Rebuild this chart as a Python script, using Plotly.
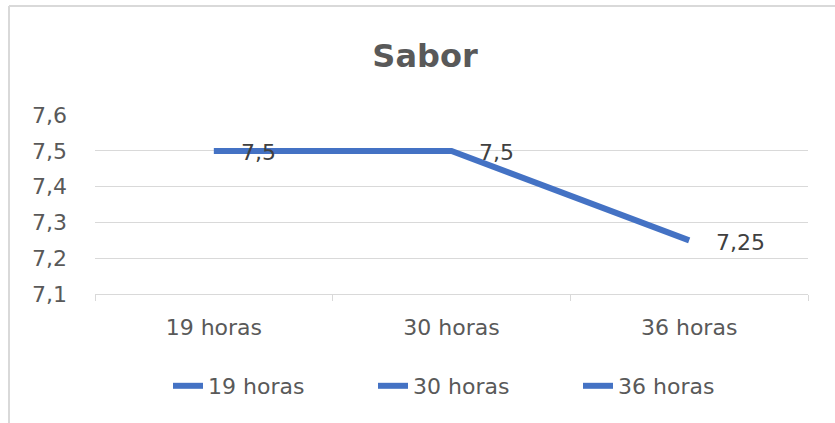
import plotly.graph_objects as go

categories = ["19 horas", "30 horas", "36 horas"]
values = [7.5, 7.5, 7.25]
value_labels = ["7,5", "7,5", "7,25"]
y_ticks = [7.1, 7.2, 7.3, 7.4, 7.5, 7.6]

BLUE = "#4472C4"
GRID = "#d9d9d9"
TXT = "#595959"
FONT = "DejaVu Sans"

W, H = 835, 423
L, R, T, B = 95, 27, 115, 129
pw, ph = W - L - R, H - T - B

fig = go.Figure()
fig.add_trace(go.Scatter(
    x=categories, y=values, mode="lines",
    line=dict(color=BLUE, width=6), showlegend=False, hoverinfo="skip"))
for c in categories:
    fig.add_trace(go.Scatter(
        x=[None], y=[None], mode="lines", name=c,
        line=dict(color=BLUE, width=6)))

for c, v, t in zip(categories, values, value_labels):
    fig.add_annotation(x=c, y=v, text=t, showarrow=False, xanchor="left",
                       yanchor="middle", xshift=25, yshift=-2,
                       font=dict(family=FONT, size=22, color="#404040"))

def px_x(p):
    return (p - L) / pw

def px_y(p):
    return (H - B - p) / ph

fig.add_shape(type="line", xref="paper", yref="paper",
              x0=px_x(9), x1=px_x(9), y0=px_y(6), y1=px_y(H + 5),
              line=dict(color=GRID, width=2))
fig.add_shape(type="line", xref="paper", yref="paper",
              x0=px_x(9), x1=px_x(W + 5), y0=px_y(6), y1=px_y(6),
              line=dict(color=GRID, width=2))

fig.update_layout(
    width=W, height=H,
    margin=dict(l=L, r=R, t=T, b=B, autoexpand=False),
    paper_bgcolor="white", plot_bgcolor="white",
    separators=",.",
    font=dict(family=FONT, size=22, color=TXT),
    title=dict(text="<b>Sabor</b>", x=425 / W, xanchor="center", y=1 - 56 / H,
               yanchor="middle", font=dict(family=FONT, size=32, color=TXT)),
    xaxis=dict(type="category", range=[-0.5, 2.5], showgrid=False,
               showline=True, linecolor=GRID, linewidth=1, automargin=False,
               ticks="outside", tickson="boundaries", ticklen=6,
               ticklabelstandoff=14,
               tickcolor=GRID, tickfont=dict(size=22, color=TXT)),
    yaxis=dict(range=[7.1, 7.6005], tickvals=y_ticks, showgrid=True,
               gridcolor=GRID, gridwidth=1, zeroline=False, automargin=False,
               ticks="", ticklabelstandoff=27, tickformat=".1f",
               tickfont=dict(size=22, color=TXT)),
    legend=dict(orientation="h", x=px_x(168), xanchor="left",
                y=px_y(386), yanchor="middle",
                font=dict(family=FONT, size=22, color=TXT),
                entrywidth=160, entrywidthmode="pixels",
                bgcolor="rgba(0,0,0,0)"),
)

fig.write_html("out.html", config={"displayModeBar": False},
               post_script="document.body.style.margin='0px';")
